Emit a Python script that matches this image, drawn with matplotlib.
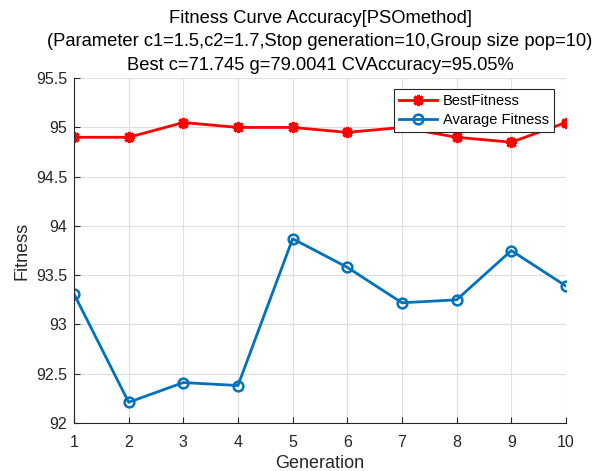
import numpy as np
import matplotlib
matplotlib.use('Agg')
from matplotlib import pyplot as plt

generation = [1, 2, 3, 4, 5, 6, 7, 8, 9, 10]
best_fitness = [94.9, 94.9, 95.05, 95.0, 95.0, 94.95, 95.0, 94.9, 94.85, 95.05]
avg_fitness = [93.31, 92.21, 92.41, 92.38, 93.87, 93.58, 93.22, 93.25, 93.75, 93.39]

plt.rcParams['font.family'] = ['Liberation Sans', 'DejaVu Sans']

fig = plt.figure(figsize=(6.04, 4.71), dpi=100)
ax = fig.add_axes([0.1225, 0.102, 0.8145, 0.732])

ax.plot(generation, best_fitness, '-', color='#ff0000', lw=2, marker=(8, 2, 0),
        ms=8, mew=2.2, label='BestFitness')
ax.plot(generation, avg_fitness, '-o', color='#0072bd', lw=2, ms=7,
        mfc='none', mew=1.8, label='Avarage Fitness')

ax.set_xlim(1, 10)
ax.set_ylim(92, 95.5)
ax.set_xticks(generation)
ax.set_yticks(np.arange(92, 95.51, 0.5))
ax.set_yticklabels(['92', '92.5', '93', '93.5', '94', '94.5', '95', '95.5'])
ax.grid(True, color='#dedede', lw=0.8)
ax.set_axisbelow(True)
for s in ['top', 'right']:
    ax.spines[s].set_visible(False)
for s in ['left', 'bottom']:
    ax.spines[s].set_color('#262626')
ax.tick_params(direction='in', labelsize=11.5, colors='#262626', length=4)
ax.tick_params(axis='x', pad=9)
ax.tick_params(axis='y', pad=5)

ax.set_xlabel('Generation', fontsize=13, color='#262626', labelpad=3)
ax.set_ylabel('Fitness', fontsize=13, color='#262626', labelpad=4)
ax.set_title('Fitness Curve Accuracy[PSOmethod]\n'
             '(Parameter c1=1.5,c2=1.7,Stop generation=10,Group size pop=10)\n'
             'Best c=71.745 g=79.0041 CVAccuracy=95.05%',
             fontsize=13.2, linespacing=1.5, pad=6)

leg = ax.legend(loc='upper right', bbox_to_anchor=(0.975, 0.97), fontsize=10.5,
                fancybox=False, edgecolor='#262626', framealpha=1,
                borderpad=0.35, handlelength=2.6, labelspacing=0.35,
                handletextpad=0.4, borderaxespad=0)
leg.get_frame().set_linewidth(0.8)

fig.savefig('out.png', dpi=100)
